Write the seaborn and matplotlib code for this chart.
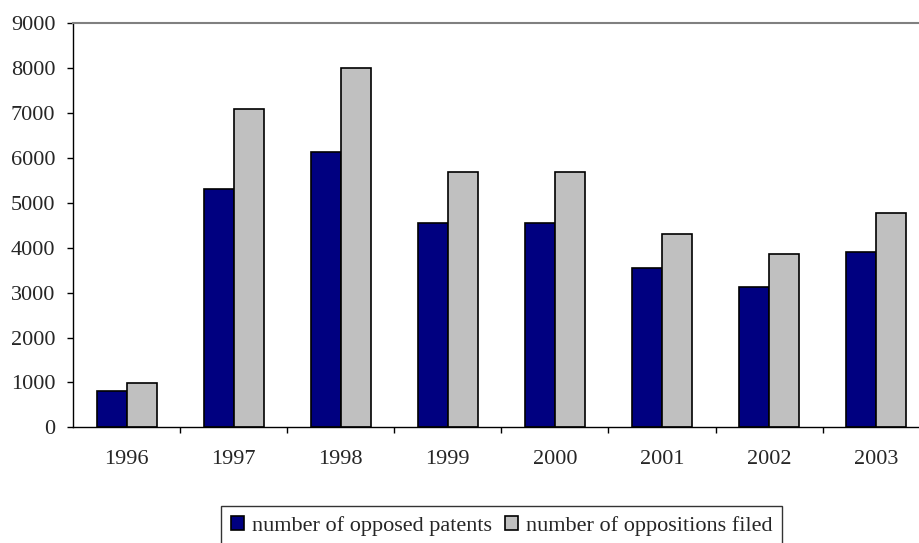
import matplotlib
matplotlib.use('Agg')
import matplotlib.pyplot as plt
import seaborn as sns
import pandas as pd

years = ['1996', '1997', '1998', '1999', '2000', '2001', '2002', '2003']
opposed_patents = [815, 5310, 6140, 4545, 4545, 3550, 3130, 3905]
oppositions_filed = [995, 7095, 7995, 5685, 5685, 4310, 3860, 4775]
series_names = ['number of opposed patents', 'number of oppositions filed']
y_ticks = [0, 1000, 2000, 3000, 4000, 5000, 6000, 7000, 8000, 9000]

df = pd.DataFrame({
    'year': years * 2,
    'value': opposed_patents + oppositions_filed,
    'series': [series_names[0]] * len(years) + [series_names[1]] * len(years),
})

sns.set_style('white')
plt.rcParams['font.family'] = ['Liberation Serif', 'DejaVu Serif']

fig = plt.figure(figsize=(9.2, 5.43), dpi=100)
ax = fig.add_axes([73 / 920, 1 - 427.3 / 543, 845 / 920, 404 / 543])

sns.barplot(data=df, x='year', y='value', hue='series', order=years,
            hue_order=series_names, palette=['#000080', '#C0C0C0'],
            width=0.56, gap=0, edgecolor='black', linewidth=1.2,
            saturation=1, ax=ax)

ax.set_xlim(-0.5, -0.5 + 845 / 107.1)
ax.set_ylim(0, 9000)
ax.set_yticks(y_ticks)
ax.set_xticks([i - 0.5 for i in range(1, 8)], minor=True)
ax.set_xlabel('')
ax.set_ylabel('')

ax.tick_params(axis='y', which='major', direction='out', length=4.5, width=1,
               color='black', labelsize=16, pad=8.2, left=True)
ax.tick_params(axis='x', which='major', length=0, labelsize=16, pad=16.5)
ax.tick_params(axis='x', which='minor', direction='out', length=4, width=1,
               color='black', bottom=True)

for side in ['left', 'bottom']:
    ax.spines[side].set_color('black')
    ax.spines[side].set_linewidth(1)
ax.spines['top'].set_color('#808080')
ax.spines['top'].set_linewidth(1.5)
ax.spines['right'].set_visible(False)

ax.get_legend().remove()
handles, labels = ax.get_legend_handles_labels()
leg = fig.legend(handles, labels, loc='upper left',
                 bbox_to_anchor=(221 / 920, 1 - 505.7 / 543), ncol=2,
                 fontsize=16, frameon=True, fancybox=False, edgecolor='black',
                 handlelength=0.6, handleheight=0.6, handletextpad=0.36,
                 columnspacing=0.55, borderpad=0.45, borderaxespad=0)
leg.get_frame().set_linewidth(1)

fig.savefig('out.png', dpi=100)
